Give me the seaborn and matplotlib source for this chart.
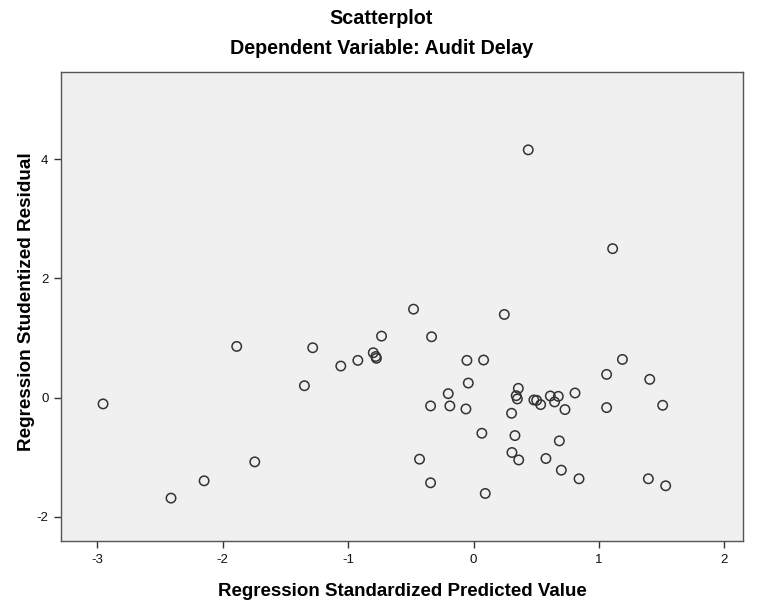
import numpy as np
import pandas as pd
import matplotlib
matplotlib.use('Agg')
import matplotlib.pyplot as plt
import seaborn as sns

# values (standardized predicted vs studentized residual)
pred = [-2.955, -2.413, -2.149, -1.889, -1.745, -1.349, -1.283, -1.059, -0.923,
        -0.800, -0.780, -0.775, -0.734, -0.479, -0.431, -0.343, -0.343, -0.335,
        -0.202, -0.189, -0.061, -0.053, -0.042, 0.066, 0.080, 0.093, 0.245,
        0.303, 0.306, 0.330, 0.340, 0.349, 0.357, 0.360, 0.436, 0.481, 0.503,
        0.535, 0.577, 0.612, 0.646, 0.676, 0.684, 0.700, 0.729, 0.809, 0.841,
        1.061, 1.061, 1.109, 1.187, 1.394, 1.405, 1.508, 1.532]
resid = [-0.105, -1.685, -1.395, 0.859, -1.077, 0.200, 0.837, 0.530, 0.625,
         0.753, 0.690, 0.660, 1.032, 1.484, -1.032, -0.139, -1.428, 1.021,
         0.067, -0.139, -0.190, 0.625, 0.245, -0.597, 0.631, -1.607, 1.395,
         -0.262, -0.920, -0.636, 0.033, -0.022, 0.156, -1.045, 4.156, -0.039, -0.045,
         -0.117, -1.021, 0.028, -0.072, 0.022, -0.725, -1.216, -0.200, 0.078, -1.361,
         0.390, -0.167, 2.499, 0.641, -1.361, 0.307, -0.128, -1.478]

xticks = [-3, -2, -1, 0, 1, 2]
yticks = [-2, 0, 2, 4]

df = pd.DataFrame({'pred': pred, 'resid': resid})

sns.set_style('ticks')
plt.rcParams['font.family'] = ['Liberation Sans', 'DejaVu Sans']

fig = plt.figure(figsize=(7.63, 6.11), dpi=100)
ax = fig.add_axes([0.080, 0.114, 0.894, 0.768])
ax.set_facecolor('#f0f0f0')

sns.scatterplot(data=df, x='pred', y='resid', ax=ax, s=46,
                facecolor='none', edgecolor='#333333', linewidth=1.1)

ax.set_xlim(-3.29, 2.15)
ax.set_ylim(-2.41, 5.46)
ax.set_xticks(xticks)
ax.set_yticks(yticks)
ax.set_xticklabels([str(t) for t in xticks])
ax.set_yticklabels([str(t) for t in yticks])
ax.tick_params(axis='both', direction='out', length=5, width=1, color='#333333',
               labelsize=9.5, labelcolor='#111111', pad=4)

for sp in ax.spines.values():
    sp.set_visible(True)
    sp.set_color('#555555')
    sp.set_linewidth(1.0)

ax.set_xlabel('Regression Standardized Predicted Value', fontsize=13.5,
              fontweight='bold', color='black')
ax.set_ylabel('Regression Studentized Residual', fontsize=13.6,
              fontweight='bold', color='black')
ax.xaxis.set_label_coords(0.5, -0.089)
ax.yaxis.set_label_coords(-0.038, 0.51)

fig.text(0.5, 0.969, 'Scatterplot', ha='center', va='center',
         fontsize=14.2, fontweight='bold', color='black')
fig.text(0.5, 0.921, 'Dependent Variable: Audit Delay', ha='center', va='center',
         fontsize=14.2, fontweight='bold', color='black')

fig.savefig('out.png', dpi=100)
